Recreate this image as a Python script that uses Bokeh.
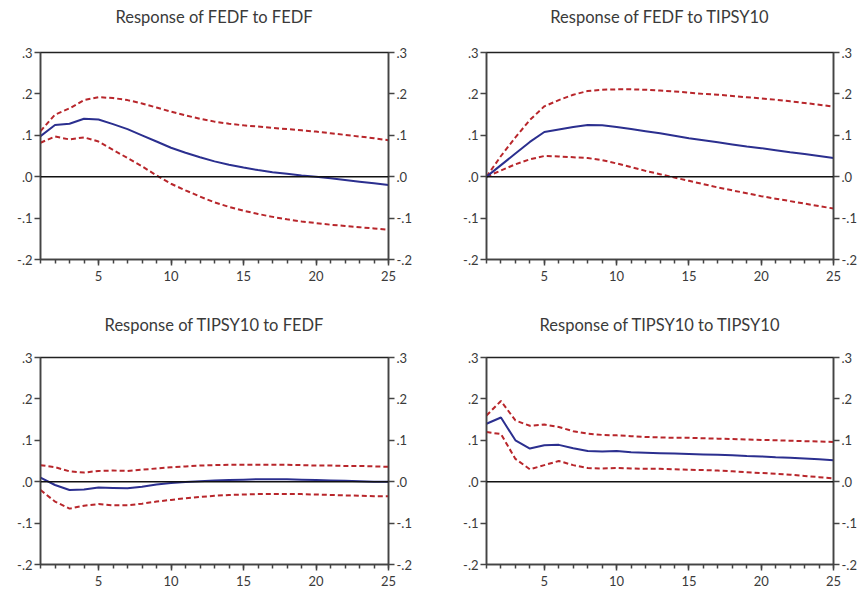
from bokeh.plotting import figure
from bokeh.layouts import column, row
from bokeh.models import LinearAxis, FixedTicker, Span, Range1d, Div
from bokeh.embed import file_html
from bokeh.resources import INLINE

periods = list(range(1, 26))

titles = ["Response of FEDF to FEDF", "Response of FEDF to TIPSY10",
          "Response of TIPSY10 to FEDF", "Response of TIPSY10 to TIPSY10"]

fedf_fedf = [0.098, 0.125, 0.128, 0.140, 0.138, 0.127, 0.115, 0.100, 0.085, 0.070,
             0.058, 0.047, 0.037, 0.029, 0.022, 0.016, 0.011, 0.007, 0.003, 0.000,
             -0.004, -0.008, -0.012, -0.016, -0.020]
fedf_fedf_hi = [0.110, 0.150, 0.165, 0.185, 0.192, 0.190, 0.185, 0.177, 0.167, 0.157,
                0.148, 0.140, 0.133, 0.128, 0.124, 0.121, 0.118, 0.115, 0.112, 0.109,
                0.105, 0.101, 0.097, 0.093, 0.088]
fedf_fedf_lo = [0.082, 0.097, 0.090, 0.095, 0.085, 0.065, 0.045, 0.025, 0.003, -0.017,
                -0.033, -0.048, -0.062, -0.073, -0.082, -0.090, -0.097, -0.103, -0.108, -0.112,
                -0.116, -0.119, -0.122, -0.125, -0.128]

fedf_tips = [0.000, 0.028, 0.056, 0.084, 0.108, 0.114, 0.120, 0.125, 0.124, 0.120,
             0.115, 0.110, 0.105, 0.099, 0.093, 0.088, 0.083, 0.078, 0.073, 0.069,
             0.064, 0.059, 0.055, 0.050, 0.045]
fedf_tips_hi = [0.000, 0.050, 0.095, 0.137, 0.170, 0.185, 0.198, 0.207, 0.210, 0.211,
                0.211, 0.210, 0.208, 0.206, 0.203, 0.200, 0.198, 0.195, 0.192, 0.189,
                0.186, 0.182, 0.178, 0.174, 0.169]
fedf_tips_lo = [0.000, 0.015, 0.030, 0.042, 0.050, 0.049, 0.047, 0.045, 0.040, 0.032,
                0.023, 0.014, 0.006, -0.002, -0.010, -0.018, -0.026, -0.033, -0.040, -0.047,
                -0.053, -0.059, -0.065, -0.071, -0.077]

tips_fedf = [0.010, -0.008, -0.020, -0.019, -0.014, -0.015, -0.016, -0.012, -0.007, -0.003,
             -0.001, 0.001, 0.003, 0.004, 0.005, 0.006, 0.006, 0.006, 0.005, 0.004,
             0.003, 0.002, 0.001, 0.000, 0.000]
tips_fedf_hi = [0.040, 0.035, 0.025, 0.022, 0.026, 0.027, 0.026, 0.029, 0.032, 0.035,
                0.037, 0.039, 0.040, 0.041, 0.041, 0.041, 0.041, 0.041, 0.040, 0.039,
                0.039, 0.038, 0.038, 0.037, 0.036]
tips_fedf_lo = [-0.020, -0.048, -0.065, -0.058, -0.054, -0.057, -0.057, -0.053, -0.048, -0.044,
                -0.040, -0.037, -0.034, -0.032, -0.031, -0.030, -0.030, -0.030, -0.030, -0.031,
                -0.032, -0.033, -0.034, -0.035, -0.035]

tips_tips = [0.140, 0.155, 0.100, 0.080, 0.088, 0.089, 0.081, 0.074, 0.073, 0.074,
             0.071, 0.070, 0.069, 0.068, 0.067, 0.066, 0.065, 0.064, 0.062, 0.061,
             0.059, 0.058, 0.056, 0.054, 0.052]
tips_tips_hi = [0.160, 0.195, 0.148, 0.135, 0.138, 0.132, 0.122, 0.116, 0.113, 0.112,
                0.110, 0.108, 0.107, 0.106, 0.106, 0.105, 0.104, 0.103, 0.102, 0.101,
                0.100, 0.099, 0.098, 0.097, 0.096]
tips_tips_lo = [0.120, 0.115, 0.055, 0.030, 0.040, 0.050, 0.040, 0.033, 0.032, 0.033,
                0.032, 0.031, 0.031, 0.030, 0.029, 0.028, 0.027, 0.025, 0.023, 0.021,
                0.019, 0.017, 0.014, 0.011, 0.008]

y_ticks = [-0.2, -0.1, 0.0, 0.1, 0.2, 0.3]
y_tick_labels = ["-.2", "-.1", ".0", ".1", ".2", ".3"]
x_ticks = [5, 10, 15, 20, 25]

FONT = "Lato"
TXT = "#3a3a3a"
BLUE = "#2b2f8f"
RED = "#b8262b"


def style_axis(ax, ticks, labels=None, minor=None):
    ax.ticker = FixedTicker(ticks=ticks, minor_ticks=minor or [])
    if labels is not None:
        ax.major_label_overrides = {t: l for t, l in zip(ticks, labels)}
    ax.axis_line_color = "#444444"
    ax.axis_line_width = 1.5
    ax.major_tick_line_color = "#444444"
    ax.major_tick_line_width = 1.5
    ax.minor_tick_line_color = "#444444"
    ax.minor_tick_line_width = 1.5
    ax.major_tick_in = 0
    ax.major_tick_out = 6
    ax.minor_tick_in = 0
    ax.minor_tick_out = 4
    ax.major_label_standoff = 2
    ax.major_label_text_font = FONT
    ax.major_label_text_font_size = "13px"
    ax.major_label_text_color = TXT


def panel(title, mid, hi, lo, w, h, bl, br, bt, bb, head):
    shift = bl - br
    pad = f"padding-left:{shift}px;" if shift >= 0 else f"padding-right:{-shift}px;"
    div = Div(text=(f'<div style="width:{w}px;height:{head}px;line-height:{head}px;'
                    f'box-sizing:border-box;{pad}text-align:center;font-family:{FONT};'
                    f'font-size:16.5px;color:{TXT};white-space:nowrap;">{title}</div>'),
              width=w, height=head, margin=(0, 0, 0, 0))
    p = figure(width=w, height=h - head, output_backend="svg", toolbar_location=None,
               x_range=Range1d(1, 25), y_range=Range1d(-0.2, 0.3),
               min_border_left=bl, min_border_right=br,
               min_border_top=bt, min_border_bottom=bb)
    p.grid.visible = False
    p.outline_line_color = "#222222"
    p.outline_line_width = 1.5
    p.background_fill_color = "white"
    p.border_fill_color = "white"
    style_axis(p.xaxis[0], x_ticks, minor=periods)
    p.xaxis[0].major_label_standoff = 5
    style_axis(p.yaxis[0], y_ticks, y_tick_labels)
    ra = LinearAxis()
    style_axis(ra, y_ticks, y_tick_labels)
    p.add_layout(ra, "right")
    p.add_layout(Span(location=0, dimension="width", line_color="#111111", line_width=1.5))
    p.line(periods, hi, line_color=RED, line_width=2, line_dash="5 3")
    p.line(periods, lo, line_color=RED, line_width=2, line_dash="5 3")
    p.line(periods, mid, line_color=BLUE, line_width=2)
    return column(div, p, spacing=0)


c1 = panel(titles[0], fedf_fedf, fedf_fedf_hi, fedf_fedf_lo, 430, 300, 40, 42, 18, 41, 34)
c2 = panel(titles[1], fedf_tips, fedf_tips_hi, fedf_tips_lo, 433, 300, 56, 30, 18, 41, 34)
c3 = panel(titles[2], tips_fedf, tips_fedf_hi, tips_fedf_lo, 430, 288, 40, 42, 7, 23, 50)
c4 = panel(titles[3], tips_tips, tips_tips_hi, tips_tips_lo, 433, 288, 56, 30, 7, 23, 50)

layout = column(row(c1, c2, spacing=0), row(c3, c4, spacing=0), spacing=0)

open("out.html", "w").write(file_html(layout, INLINE))
